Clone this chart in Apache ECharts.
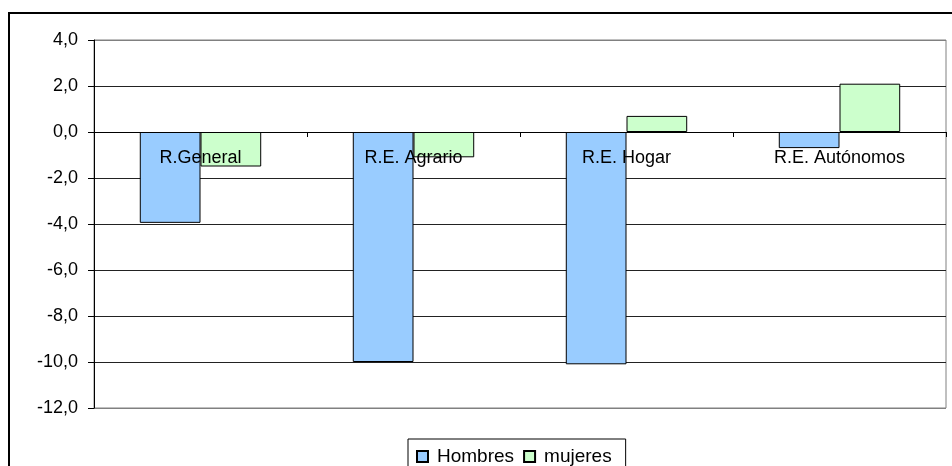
<!DOCTYPE html>
<html><head><meta charset="utf-8">
<script src="https://cdn.jsdelivr.net/npm/echarts@6/dist/echarts.min.js"></script>
<style>html,body{margin:0;padding:0;background:#fff}#c{width:952px;height:466px}</style>
</head><body><div id="c"></div>
<script>
var categories = ['R.General', 'R.E. Agrario', 'R.E. Hogar', 'R.E. Autónomos'];
var hombres = [-3.95, -10.0, -10.1, -0.7];
var mujeres = [-1.5, -1.1, 0.7, 2.1];
var seriesNames = ['Hombres', 'mujeres'];
var yMin = -12, yMax = 4, yStep = 2;

var FONT = 'Liberation Sans, Arial, sans-serif';
var chart = echarts.init(document.getElementById('c'));
chart.setOption({
  animation: false,
  backgroundColor: '#fff',
  graphic: [{
    type: 'rect', z: 100, silent: true,
    shape: {x: 9, y: 13, width: 960, height: 480},
    style: {fill: 'none', stroke: '#000', lineWidth: 2}
  }],
  grid: {left: 94, right: 6, top: 40, bottom: 58, show: true, borderColor: '#808080', borderWidth: 1, backgroundColor: 'transparent'},
  legend: {
    data: seriesNames, left: 408, top: 439,
    padding: [8, 14, 12, 8],
    borderColor: '#000', borderWidth: 1, backgroundColor: '#fff',
    itemWidth: 11, itemHeight: 11, itemGap: 9,
    icon: 'rect',
    textStyle: {fontFamily: FONT, fontSize: 19, color: '#000', padding: [0, 0, 0, 4]}
  },
  xAxis: {
    type: 'category', data: categories, z: 10,
    offset: -276,
    axisLine: {onZero: false, lineStyle: {color: '#000', width: 1}},
    axisTick: {show: true, length: 5, lineStyle: {color: '#000'}},
    axisLabel: {fontFamily: FONT, fontSize: 18, color: '#000', margin: 17},
    splitLine: {show: false}
  },
  yAxis: {
    type: 'value', min: yMin, max: yMax, interval: yStep,
    axisLine: {show: true, lineStyle: {color: '#000'}},
    axisTick: {show: true, length: 6, lineStyle: {color: '#000'}},
    axisLabel: {fontFamily: FONT, fontSize: 18, color: '#000', margin: 16,
      formatter: function (v) { return v.toFixed(1).replace('.', ','); }},
    splitLine: {show: true, lineStyle: {color: ['#808080', '#222', '#222', '#222', '#222', '#222', '#222', '#222', '#808080'], width: 1}}
  },
  series: [
    {name: seriesNames[0], type: 'bar', data: hombres, barGap: '0%', barCategoryGap: '43%',
      itemStyle: {color: '#99CCFF', borderColor: '#000', borderWidth: 1}},
    {name: seriesNames[1], type: 'bar', data: mujeres,
      itemStyle: {color: '#CCFFCC', borderColor: '#000', borderWidth: 1}}
  ]
});
</script></body></html>
